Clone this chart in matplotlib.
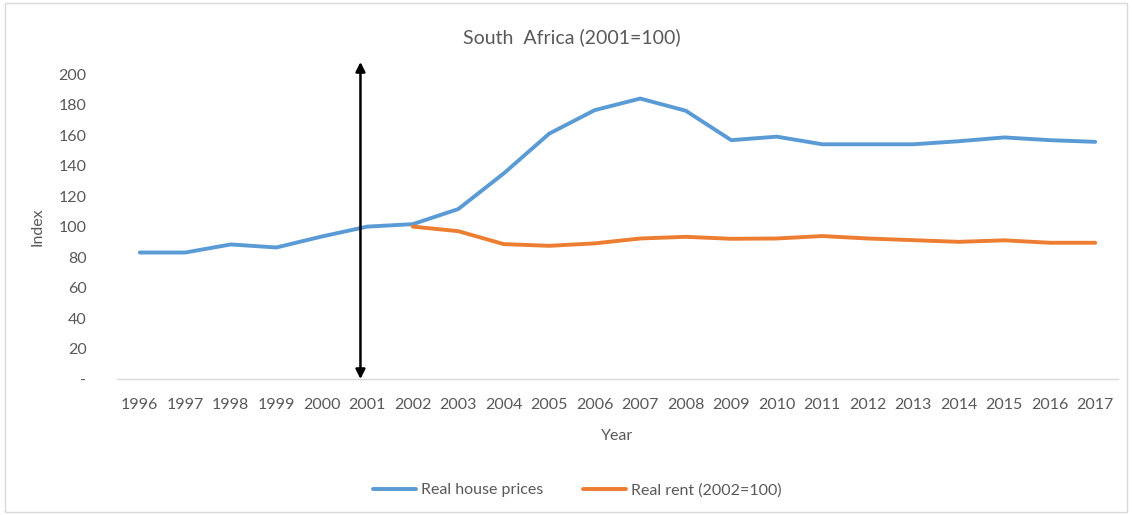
import matplotlib.pyplot as plt
from matplotlib.patches import Rectangle

years = list(range(1996, 2018))
house_prices = [83, 83, 88.3, 86.3, 93.5, 100, 101.6, 111.5, 134.9, 161, 176.4, 184,
                176, 156.7, 159, 154, 154, 154, 156, 158.5, 156.7, 155.6]
rent_years = list(range(2002, 2018))
rent = [100, 97, 88.5, 87.4, 89, 92.2, 93.3, 92, 92.2, 93.8, 92.2, 91.1, 90, 91, 89.4, 89.4]

y_ticks = list(range(0, 201, 20))
y_labels = ['-'] + [str(v) for v in y_ticks[1:]]

plt.rcParams['font.family'] = ['Lato', 'DejaVu Sans']
txt = '#595959'

fig = plt.figure(figsize=(11.32, 5.15), dpi=100)
ax = fig.add_axes([0.1034, 0.264, 0.8842, 0.592])

ax.plot(years, house_prices, color='#5B9BD5', lw=2.8, label='Real house prices',
        solid_capstyle='round', solid_joinstyle='round')
ax.plot(rent_years, rent, color='#ED7D31', lw=2.8, label='Real rent (2002=100)',
        solid_capstyle='round', solid_joinstyle='round')

# double-headed marker at the base year
ax.annotate('', xy=(2000.85, 208), xytext=(2000.85, 0),
            arrowprops=dict(arrowstyle='<|-|>', color='black', lw=1.8,
                            mutation_scale=14, shrinkA=0, shrinkB=0),
            annotation_clip=False)

ax.set_xlim(1995.5, 2017.5)
ax.set_ylim(0, 200)
ax.set_xticks(years)
ax.set_xticklabels([str(y) for y in years])
ax.set_yticks(y_ticks)
ax.set_yticklabels(y_labels)
ax.tick_params(length=0, labelsize=11.5, colors=txt, pad=14)
ax.tick_params(axis='y', pad=22)

for s in ['top', 'right', 'left']:
    ax.spines[s].set_visible(False)
ax.spines['bottom'].set_color('#D9D9D9')
ax.spines['bottom'].set_linewidth(1)

ax.set_xlabel('Year', fontsize=11.5, color=txt, labelpad=12)
ax.set_ylabel('Index', fontsize=11.5, color=txt, labelpad=10)
fig.text(0.505, 0.928, 'South  Africa (2001=100)', ha='center', va='center',
         fontsize=14, color=txt)

ax.legend(loc='center', bbox_to_anchor=(0.46, -0.365), ncol=2, frameon=False,
          fontsize=11.5, labelcolor=txt, handlelength=2.7, columnspacing=2.5,
          handletextpad=0.3)

fig.patches.append(Rectangle((0.004, 0.006), 0.992, 0.988, transform=fig.transFigure,
                             fill=False, edgecolor='#D9D9D9', lw=1))

fig.savefig('out.png', dpi=100)
